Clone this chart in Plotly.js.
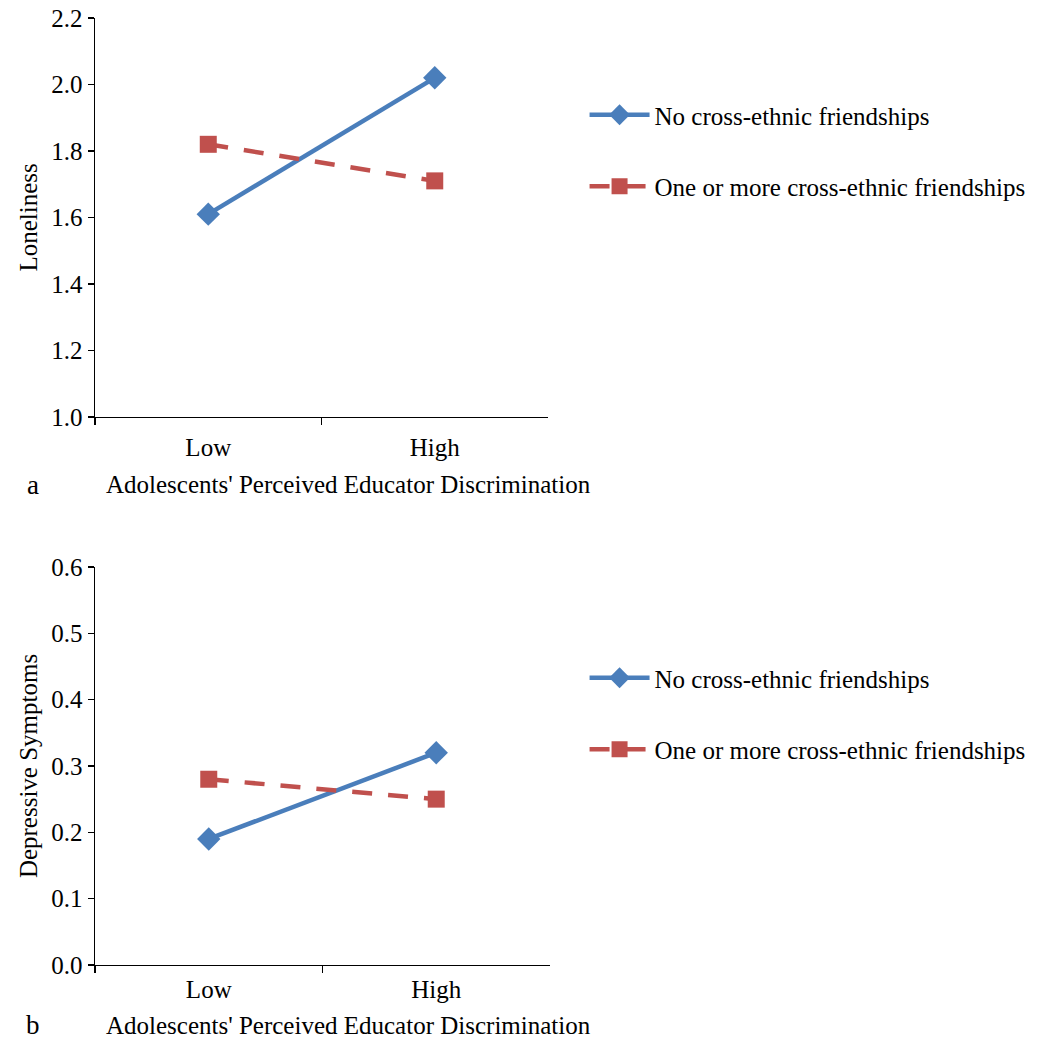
<!DOCTYPE html>
<html>
<head>
<meta charset="utf-8">
<script src="https://cdn.plot.ly/plotly-3.0.1.min.js"></script>
<style>html,body{margin:0;padding:0;background:#fff;}</style>
</head>
<body>
<div id="chart" style="width:1042px;height:1050px;"></div>
<script>
const categories = ["Low", "High"];
const lonelinessNoCross = [1.61, 2.02];
const lonelinessCross = [1.82, 1.71];
const depressNoCross = [0.19, 0.32];
const depressCross = [0.28, 0.25];
const seriesNames = ["No cross-ethnic friendships", "One or more cross-ethnic friendships"];
const xTitle = "Adolescents' Perceived Educator Discrimination";
const panelLabels = ["a", "b"];

const blue = "#4a7ebb";
const red = "#c0504d";
const FONT = "Liberation Serif, Times New Roman, serif";
const FS = 25;

function solid(y, xa, ya, leg) {
  return {x: categories, y: y, xaxis: xa, yaxis: ya, type: "scatter", mode: "lines+markers",
    name: seriesNames[0], legend: leg, legendgroup: leg + "a", showlegend: true,
    line: {color: blue, width: 4.5},
    marker: {symbol: "diamond", size: 18, color: blue}};
}
function dashed(y, xa, ya, leg) {
  return {x: categories, y: y, xaxis: xa, yaxis: ya, type: "scatter", mode: "lines+markers",
    name: seriesNames[1], legend: leg, legendgroup: leg + "b", showlegend: true,
    line: {color: red, width: 4.5, dash: "20px,16px"},
    marker: {symbol: "square", size: 17, color: red}};
}

const data = [
  solid(lonelinessNoCross, "x", "y", "legend"),
  dashed(lonelinessCross, "x", "y", "legend"),
  solid(depressNoCross, "x2", "y2", "legend2"),
  dashed(depressCross, "x2", "y2", "legend2")
];

function xaxis(domain, anchor, labelPad) {
  return {domain: domain, anchor: anchor, type: "category", range: [-0.5, 1.5],
    tickson: "boundaries", ticks: "outside", ticklen: 7, tickwidth: 1.5, tickcolor: "#000",
    ticklabelstandoff: labelPad,
    showline: true, linecolor: "#000", linewidth: 1.5, showgrid: false, zeroline: false,
    tickfont: {family: FONT, size: FS, color: "#000"}};
}
function yaxis(domain, anchor, range, dtick, title) {
  return {domain: domain, anchor: anchor, range: range, dtick: dtick, tickformat: ".1f",
    ticks: "outside", ticklen: 6, tickwidth: 1.5, tickcolor: "#000",
    showline: true, linecolor: "#000", linewidth: 1.5, showgrid: false, zeroline: false,
    tickfont: {family: FONT, size: FS, color: "#000"},
    title: {text: title, font: {family: FONT, size: FS, color: "#000"}, standoff: 6}};
}

const legendBase = {
  x: 0.561, xanchor: "left", yanchor: "top", bgcolor: "rgba(0,0,0,0)",
  font: {family: FONT, size: FS, color: "#000"}, traceorder: "grouped", tracegroupgap: 36,
  itemwidth: 60
};

function textNote(text, xPx, yPx, size) {
  return {text: text, xref: "paper", yref: "paper", x: xPx / 1042, y: 1 - yPx / 1050,
    xanchor: "center", yanchor: "middle",
    showarrow: false, font: {family: FONT, size: size, color: "#000"}};
}

const layout = {
  width: 1042, height: 1050,
  margin: {l: 0, r: 0, t: 0, b: 0},
  paper_bgcolor: "#fff", plot_bgcolor: "#fff",
  showlegend: true,
  xaxis: xaxis([0.0912, 0.5259], "y", 8),
  yaxis: yaxis([0.6029, 0.9829], "x", [1.0, 2.2], 0.2, "Loneliness"),
  xaxis2: xaxis([0.0912, 0.5278], "y2", 2),
  yaxis2: yaxis([0.0810, 0.46], "x2", [0.0, 0.6], 0.1, "Depressive Symptoms"),
  legend: Object.assign({}, legendBase, {y: 1 - 92 / 1050}),
  legend2: Object.assign({}, legendBase, {y: 1 - 655 / 1050}),
  annotations: [
    textNote(xTitle, 348, 484, FS),
    textNote(xTitle, 348, 1025, FS),
    textNote(panelLabels[0], 33, 485, 27),
    textNote(panelLabels[1], 33, 1025, 27)
  ]
};

Plotly.newPlot("chart", data, layout, {staticPlot: true});
</script>
</body>
</html>
